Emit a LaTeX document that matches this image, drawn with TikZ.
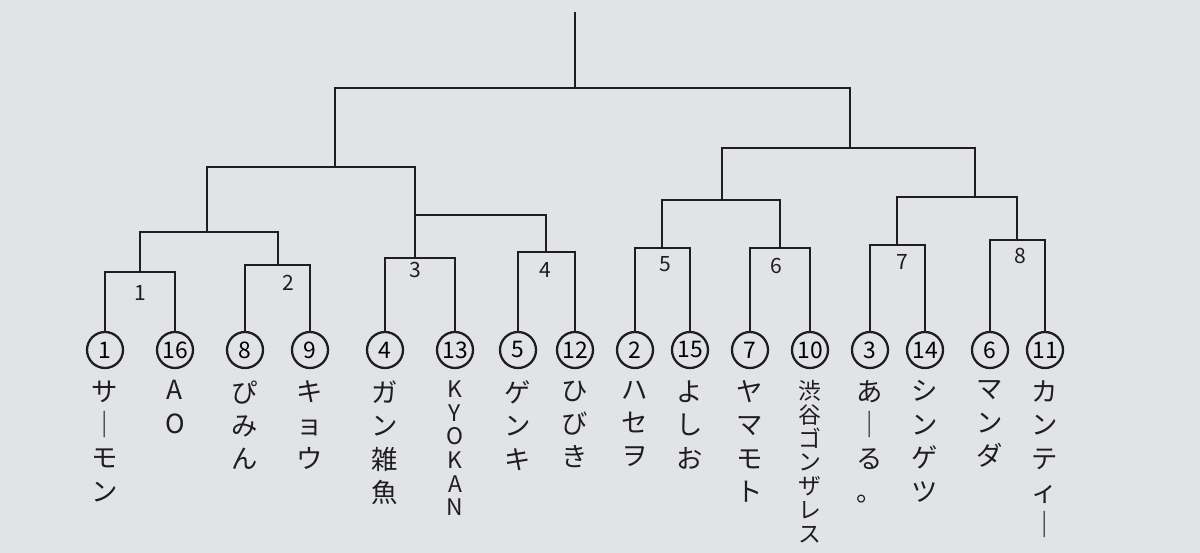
\documentclass[tikz,border=0pt]{standalone}
\usepackage{fontspec}
\newfontfamily\jp{Noto Sans CJK JP}
\begin{document}
\begin{tikzpicture}[x=0.02cm,y=-0.02cm,
  seed/.style={circle,draw=ink,line width=1.3pt,minimum size=0.72cm,inner sep=0pt,font=\jp\fontsize{13}{13}\selectfont},
  nm/.style={anchor=north,align=center,font=\jp\fontsize{15}{19}\selectfont,text=ink,yshift=-3pt},
  nml/.style={nm,font=\jp\fontsize{13}{13.5}\selectfont},
  lab/.style={font=\jp\fontsize{12}{12}\selectfont,text=ink},
  br/.style={draw=ink,line width=1.6pt}]
\definecolor{ink}{HTML}{1E1E1E}
\fill[color={rgb,255:red,226;green,227;blue,230}] (0,0) rectangle (1200,553);
\useasboundingbox (0,0) rectangle (1200,553);
% seeds
\foreach \n/\x/\s in {c1/105/1,c2/175/16,c3/245/8,c4/310/9,c5/385/4,c6/455/13,c7/518/5,c8/575/12,c9/635/2,c10/690/15,c11/750/7,c12/810/10,c13/870/3,c14/925/14,c15/990/6,c16/1045/11}
  \node[seed] (\n) at (\x,350) {\s};
% names
\node[nm] (n1) at (c1.south) {サ\\｜\\モ\\ン};
\node[nm] (n2) at (c2.south) {A\\O};
\node[nm] (n3) at (c3.south) {ぴ\\み\\ん};
\node[nm] (n4) at (c4.south) {キ\\ョ\\ウ};
\node[nm] (n5) at (c5.south) {ガ\\ン\\雑\\魚};
\node[nml] (n6) at (c6.south) {K\\Y\\O\\K\\A\\N};
\node[nm] (n7) at (c7.south) {ゲ\\ン\\キ};
\node[nm] (n8) at (c8.south) {ひ\\び\\き};
\node[nm] (n9) at (c9.south) {ハ\\セ\\ヲ};
\node[nm] (n10) at (c10.south) {よ\\し\\お};
\node[nm] (n11) at (c11.south) {ヤ\\マ\\モ\\ト};
\node[nml] (n12) at (c12.south) {渋\\谷\\ゴ\\ン\\ザ\\レ\\ス};
\node[nm] (n13) at (c13.south) {あ\\｜\\る\\。};
\node[nm] (n14) at (c14.south) {シ\\ン\\ゲ\\ツ};
\node[nm] (n15) at (c15.south) {マ\\ン\\ダ};
\node[nm] (n16) at (c16.south) {カ\\ン\\テ\\ィ\\｜};
% junctions
\coordinate (m1) at (140,272); \coordinate (m2) at (278,265);
\coordinate (m3) at (415,258); \coordinate (m4) at (546,252);
\coordinate (m5) at (662,248); \coordinate (m6) at (780,248);
\coordinate (m7) at (897,245); \coordinate (m8) at (1017,240);
\coordinate (q1) at (207,232); \coordinate (q2) at (415,215);
\coordinate (q3) at (722,200); \coordinate (q4) at (975,197);
\coordinate (s1) at (335,167); \coordinate (s2) at (850,148);
\coordinate (f) at (575,88); \coordinate (top) at (575,12);
\draw[br] (c1.north) |- (m1) -| (c2.north);
\draw[br] (c3.north) |- (m2) -| (c4.north);
\draw[br] (c5.north) |- (m3) -| (c6.north);
\draw[br] (c7.north) |- (m4) -| (c8.north);
\draw[br] (c9.north) |- (m5) -| (c10.north);
\draw[br] (c11.north) |- (m6) -| (c12.north);
\draw[br] (c13.north) |- (m7) -| (c14.north);
\draw[br] (c15.north) |- (m8) -| (c16.north);
\draw[br] (m1) |- (q1) -| (m2);
\draw[br] (m3) |- (q2) -| (m4);
\draw[br] (m5) |- (q3) -| (m6);
\draw[br] (m7) |- (q4) -| (m8);
\draw[br] (q1) |- (s1) -| (q2);
\draw[br] (q3) |- (s2) -| (q4);
\draw[br] (s1) |- (f) -| (s2);
\draw[br] (f) -- (top);
% match numbers
\foreach \t/\x/\y in {1/140/293,2/288/283,3/415/270,4/545/270,5/665/264,6/776/266,7/902/262,8/1020/256}
  \node[lab] (l\t) at (\x,\y) {\t};
\end{tikzpicture}
\end{document}
